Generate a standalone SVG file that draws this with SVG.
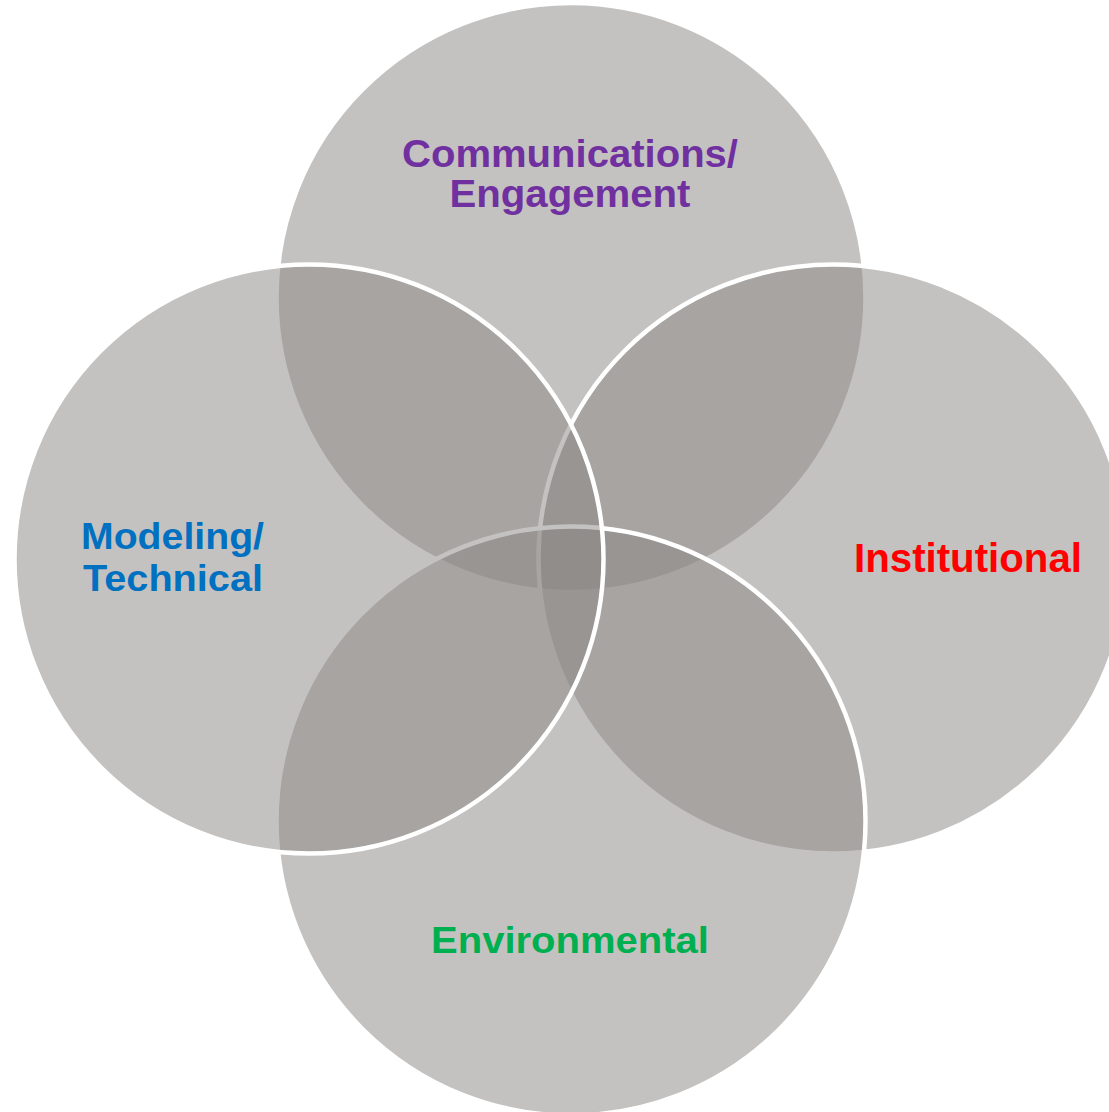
<svg xmlns="http://www.w3.org/2000/svg" width="1109" height="1112" viewBox="0 0 1109 1112">
  <style>
    .c { fill: #8a8684; fill-opacity: 0.5; stroke: #ffffff; stroke-width: 4.5; }
    .t { font-family: "Liberation Sans", Arial, sans-serif; font-weight: bold; }
  </style>
  <rect x="0" y="0" width="1109" height="1112" fill="#ffffff"/>
  <g id="connectors"/>
  <g id="node-communications">
    <circle class="c" cx="571" cy="297.5" r="294.5"/>
    <text class="t" font-size="38" fill="#7030a0" text-anchor="middle" x="570" y="167" textLength="336" lengthAdjust="spacingAndGlyphs">Communications/</text>
    <text class="t" font-size="38" fill="#7030a0" text-anchor="middle" x="570" y="207" textLength="241" lengthAdjust="spacingAndGlyphs">Engagement</text>
  </g>
  <g id="node-institutional">
    <circle class="c" cx="833" cy="559" r="294.5"/>
    <text class="t" font-size="40" fill="#ff0000" x="854" y="572" textLength="228" lengthAdjust="spacingAndGlyphs">Institutional</text>
  </g>
  <g id="node-environmental">
    <circle class="c" cx="571" cy="821" r="294.5"/>
    <text class="t" font-size="37" fill="#00b050" text-anchor="middle" x="570" y="953" textLength="278" lengthAdjust="spacingAndGlyphs">Environmental</text>
  </g>
  <g id="node-modeling">
    <circle class="c" cx="309" cy="559" r="294.5"/>
    <text class="t" font-size="37" fill="#0070c0" x="81" y="549" textLength="183" lengthAdjust="spacingAndGlyphs">Modeling/</text>
    <text class="t" font-size="37" fill="#0070c0" x="83" y="591" textLength="180" lengthAdjust="spacingAndGlyphs">Technical</text>
  </g>
</svg>
